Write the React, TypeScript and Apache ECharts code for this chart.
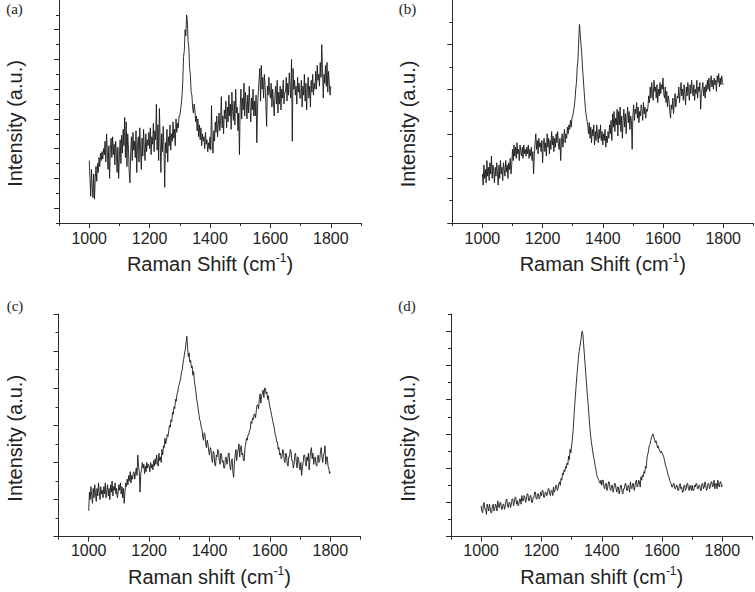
import React, { useEffect, useRef } from "react";
import * as echarts from "echarts";

// Raman shift sampling grid (cm^-1): one reading every 2.5 cm^-1 from 1000 to 1800
const shiftCm: number[] = Array.from({ length: 321 }, (_, i) => 1000 + i * 2.5);

// Intensities in arbitrary units, one row per 50 cm^-1
const spectrumA = [
  42, 30, 18, 36, 24, 17, 33, 16, 30, 38, 28, 40, 34, 44, 38, 47, 42, 48, 43, 50,
  46, 55, 41, 60, 48, 36, 52, 30, 50, 57, 44, 58, 46, 53, 39, 55, 47, 34, 51, 30,
  45, 56, 40, 59, 47, 63, 52, 71, 44, 68, 38, 60, 50, 34, 27, 48, 58, 42, 61, 49,
  55, 44, 62, 34, 52, 58, 41, 64, 49, 36, 57, 45, 63, 50, 42, 60, 48, 56, 52, 61,
  50, 64, 46, 58, 53, 67, 48, 62, 56, 80, 49, 66, 42, 77, 55, 34, 60, 48, 65, 52,
  24, 54, 47, 63, 41, 58, 52, 66, 49, 60, 55, 68, 57, 63, 52, 70, 61, 67, 64, 72,
  72, 76, 80, 86, 96, 112, 116, 130, 126, 140, 136, 122, 118, 104, 100, 88, 86, 78, 74, 80,
  76, 68, 72, 62, 70, 58, 66, 56, 64, 52, 60, 55, 58, 50, 61, 53, 56, 48, 54, 50,
  58, 49, 79, 54, 47, 62, 55, 68, 61, 72, 58, 66, 74, 62, 69, 85, 64, 72, 60, 76,
  70, 82, 64, 78, 68, 86, 72, 80, 63, 88, 75, 69, 82, 66, 90, 74, 78, 62, 74, 46,
  78, 90, 70, 84, 76, 94, 72, 88, 80, 70, 86, 74, 92, 78, 68, 84, 76, 90, 72, 82,
  72, 86, 54, 78, 88, 96, 104, 82, 106, 90, 98, 84, 100, 92, 80, 65, 92, 86, 98, 88,
  84, 94, 78, 90, 82, 72, 86, 92, 80, 96, 74, 88, 80, 92, 76, 90, 84, 96, 80, 88,
  88, 98, 82, 94, 86, 101, 92, 84, 110, 55, 104, 90, 96, 86, 92, 80, 98, 88, 94, 84,
  84, 96, 78, 92, 86, 100, 82, 94, 76, 90, 98, 84, 92, 78, 96, 88, 100, 86, 94, 90,
  102, 90, 106, 96, 100, 92, 108, 98, 120, 104, 84, 100, 94, 106, 92, 108, 88, 102, 94, 86,
  92,
];

const spectrumB = [
  22, 17, 26, 20, 24, 18, 28, 21, 25, 19, 27, 22, 30, 20, 26, 23, 18, 25, 21, 27,
  23, 17, 26, 20, 28, 22, 25, 19, 27, 24, 21, 28, 23, 26, 20, 27, 24, 29, 22, 26,
  33, 28, 35, 30, 34, 29, 36, 31, 33, 28, 35, 32, 30, 34, 29, 35, 31, 33, 30, 34,
  31, 35, 29, 33, 30, 34, 28, 32, 22, 30, 36, 40, 33, 37, 31, 38, 34, 36, 32, 37,
  27, 35, 38, 32, 36, 30, 40, 34, 38, 31, 37, 33, 41, 35, 39, 32, 38, 34, 40, 36,
  41, 35, 33, 38, 28, 36, 40, 34, 38, 42, 36, 40, 38, 43, 40, 44, 42, 46, 43, 47,
  48, 50, 52, 55, 60, 63, 70, 73, 82, 89, 85, 80, 76, 70, 65, 60, 55, 51, 48, 46,
  44, 40, 45, 38, 43, 36, 42, 39, 44, 35, 41, 37, 44, 39, 36, 42, 38, 44, 37, 41,
  35, 40, 37, 42, 34, 39, 36, 41, 38, 44, 40, 46, 37, 49, 43, 50, 41, 47, 44, 51,
  39, 50, 44, 52, 41, 48, 38, 46, 51, 43, 49, 40, 47, 52, 45, 50, 42, 48, 46, 33,
  48, 53, 46, 51, 49, 54, 47, 52, 45, 50, 48, 53, 51, 46, 54, 49, 52, 47, 51, 50,
  52, 57, 54, 61, 56, 63, 58, 55, 64, 59, 61, 56, 62, 54, 60, 57, 63, 58, 62, 60,
  65, 58, 56, 61, 54, 59, 52, 57, 55, 50, 47, 53, 51, 56, 49, 54, 58, 52, 55, 57,
  56, 61, 54, 59, 63, 57, 60, 55, 62, 58, 53, 61, 57, 63, 59, 55, 62, 58, 64, 60,
  57, 62, 55, 60, 58, 64, 56, 61, 59, 63, 51, 58, 60, 63, 57, 61, 56, 62, 59, 64,
  60, 65, 59, 63, 66, 61, 64, 60, 65, 62, 64, 59, 66, 63, 67, 61, 65, 62, 66, 63,
  62,
];

const spectrumC = [
  14, 24, 20, 27, 22, 18, 26, 21, 28, 23, 19, 26, 22, 29, 24, 20, 27, 23, 25, 21,
  27, 23, 29, 21, 25, 28, 22, 26, 20, 28, 24, 30, 22, 27, 25, 29, 23, 26, 21, 24,
  28, 25, 29, 23, 27, 21, 26, 18, 24, 29, 27, 31, 28, 33, 30, 35, 29, 33, 31, 34,
  35, 31, 34, 37, 33, 44, 38, 35, 24, 34, 36, 40, 37, 39, 34, 38, 35, 40, 37, 39,
  38, 35, 40, 37, 39, 36, 41, 38, 42, 39, 44, 40, 38, 45, 41, 43, 40, 47, 44, 49,
  48, 53, 50, 52, 55, 54, 57, 60, 59, 63, 62, 67, 66, 70, 69, 74, 73, 77, 78, 81,
  82, 84, 86, 89, 90, 94, 96, 99, 101, 105, 108, 102, 97, 99, 94, 95, 91, 92, 87, 89,
  84, 81, 78, 74, 72, 69, 66, 63, 62, 59, 58, 54, 52, 56, 55, 50, 48, 52, 50, 46,
  44, 48, 47, 42, 40, 46, 45, 39, 38, 44, 43, 47, 46, 41, 39, 45, 44, 40, 41, 37,
  37, 42, 43, 39, 40, 45, 45, 38, 36, 41, 42, 35, 32, 40, 44, 47, 41, 45, 47, 50,
  43, 48, 49, 44, 45, 41, 41, 48, 50, 53, 52, 55, 55, 57, 58, 62, 61, 64, 63, 66,
  66, 64, 68, 71, 71, 69, 74, 77, 72, 76, 77, 79, 75, 80, 80, 77, 78, 74, 76, 72,
  70, 68, 66, 64, 62, 60, 58, 55, 54, 51, 51, 47, 48, 44, 45, 42, 43, 47, 46, 41,
  40, 45, 44, 39, 38, 43, 43, 47, 46, 41, 41, 37, 39, 44, 45, 40, 37, 43, 42, 38,
  36, 40, 33, 37, 40, 44, 44, 40, 38, 43, 41, 45, 36, 42, 46, 48, 42, 45, 39, 42,
  43, 39, 38, 42, 44, 40, 41, 46, 48, 43, 40, 44, 45, 49, 39, 43, 43, 38, 37, 34,
  35,
];

const spectrumD = [
  18, 15, 14, 19, 20, 16, 16, 13, 19, 17, 15, 19, 17, 14, 14, 18, 19, 15, 16, 19,
  18, 15, 21, 18, 17, 20, 20, 16, 16, 19, 19, 16, 18, 21, 22, 18, 17, 20, 20, 17,
  19, 22, 22, 18, 20, 23, 23, 19, 21, 18, 19, 22, 22, 19, 24, 21, 21, 24, 23, 20,
  22, 25, 25, 21, 21, 24, 24, 20, 20, 23, 23, 26, 26, 22, 22, 25, 25, 22, 23, 26,
  24, 27, 27, 23, 23, 26, 26, 24, 25, 28, 28, 25, 24, 27, 27, 24, 29, 26, 27, 30,
  30, 27, 28, 31, 32, 30, 34, 33, 37, 36, 39, 38, 41, 40, 43, 42, 47, 45, 51, 49,
  53, 57, 62, 69, 76, 82, 88, 94, 99, 104, 108, 111, 114, 117, 120, 118, 112, 106, 100, 94,
  88, 82, 77, 71, 65, 60, 56, 53, 50, 47, 45, 42, 40, 37, 35, 34, 33, 32, 31, 33,
  30, 33, 33, 29, 28, 31, 31, 27, 29, 32, 32, 28, 27, 30, 30, 26, 28, 31, 31, 28,
  26, 29, 29, 25, 27, 30, 30, 26, 25, 28, 28, 31, 31, 27, 27, 30, 29, 26, 32, 29,
  28, 31, 31, 27, 29, 32, 33, 29, 30, 33, 32, 29, 35, 33, 36, 35, 38, 37, 41, 40,
  46, 48, 50, 53, 54, 56, 58, 59, 60, 58, 57, 55, 56, 54, 52, 53, 51, 50, 49, 50,
  49, 48, 47, 45, 43, 41, 40, 38, 36, 35, 33, 32, 31, 29, 29, 31, 31, 28, 28, 30,
  30, 27, 27, 30, 31, 28, 29, 26, 26, 30, 30, 27, 28, 31, 31, 28, 27, 30, 29, 27,
  30, 27, 27, 30, 29, 31, 31, 28, 28, 30, 30, 27, 27, 31, 31, 28, 29, 32, 30, 27,
  28, 31, 31, 28, 29, 32, 32, 29, 30, 33, 28, 31, 31, 28, 33, 30, 29, 32, 32, 29,
  30,
];

// Axis tick positions
const shiftLabelTicks = [1000, 1200, 1400, 1600, 1800];
const shiftMinorTicks = [900, 1100, 1300, 1500, 1700, 1900];
const intensityOddTicks = [10, 30, 50, 70, 90, 110, 130];
const intensityEvenTicks = [0, 20, 40, 60, 80, 100, 120];

const panelLetters = ["(a)", "(b)", "(c)", "(d)"];
const shiftWords = ["Shift", "Shift", "shift", "shift"];

const FONT = '"Liberation Sans", Arial, Helvetica, sans-serif';
const SERIF = '"Liberation Serif", "Times New Roman", serif';
const INK = "#222";
const AXIS = "#2a2a2a";

type Panel = {
  values: number[];
  yMax: number;
  yMajor: number[];
  yMinor: number[];
  left: number;
  top: number;
  width: number;
  height: number;
  labelMargin: number;
  nameGap: number;
  letterPos: [number, number];
  yTitlePos: [number, number];
};

const upto = (arr: number[], max: number) => arr.filter((v) => v <= max);

const panels: Panel[] = [
  {
    values: spectrumA,
    yMax: 150,
    yMajor: upto(intensityOddTicks, 140),
    yMinor: upto(intensityEvenTicks, 140).concat([140]),
    left: 59, top: 0, width: 302, height: 223,
    labelMargin: 7, nameGap: 29,
    letterPos: [14.5, 9], yTitlePos: [15, 123.5],
  },
  {
    values: spectrumB,
    yMax: 100,
    yMajor: upto(intensityEvenTicks, 90),
    yMinor: upto(intensityOddTicks, 90),
    left: 452.3, top: 0, width: 301, height: 223,
    labelMargin: 7, nameGap: 29,
    letterPos: [407.5, 9], yTitlePos: [408, 124],
  },
  {
    values: spectrumC,
    yMax: 120,
    yMajor: upto(intensityEvenTicks, 120),
    yMinor: upto(intensityOddTicks, 120),
    left: 58.5, top: 314, width: 302, height: 222.7,
    labelMargin: 6, nameGap: 28,
    letterPos: [15, 306], yTitlePos: [15, 438.3],
  },
  {
    values: spectrumD,
    yMax: 130,
    yMajor: upto(intensityEvenTicks, 130),
    yMinor: upto(intensityOddTicks, 130),
    left: 451, top: 314, width: 301.5, height: 222.7,
    labelMargin: 6, nameGap: 28,
    letterPos: [407, 305.7], yTitlePos: [408, 438.3],
  },
];

function buildOption() {
  const grid: any[] = [];
  const xAxis: any[] = [];
  const yAxis: any[] = [];
  const series: any[] = [];
  const graphic: any[] = [];

  panels.forEach((p, i) => {
    grid.push({
      left: p.left,
      top: p.top,
      width: p.width,
      height: p.height,
      containLabel: false,
      outerBoundsMode: "none",
    });

    // main shift axis: line, long ticks and labels
    xAxis.push({
      type: "value",
      gridIndex: i,
      position: "bottom",
      min: 900,
      max: 1900,
      axisLine: { show: true, onZero: false, lineStyle: { color: AXIS, width: 1 } },
      axisTick: { show: true, length: 5, customValues: shiftLabelTicks, lineStyle: { color: AXIS, width: 1 } },
      axisLabel: {
        show: true,
        customValues: shiftLabelTicks,
        formatter: (v: number) => String(v),
        fontSize: 16,
        fontFamily: FONT,
        color: INK,
        margin: p.labelMargin,
      },
      splitLine: { show: false },
      name: `{t|Raman ${shiftWords[i]} (cm}{s|-1}{t|)}`,
      nameLocation: "middle",
      nameGap: p.nameGap,
      nameTextStyle: {
        rich: {
          t: { fontSize: 20, fontFamily: FONT, color: INK },
          s: { fontSize: 12, fontFamily: FONT, color: INK, padding: [0, 0, 12, 0] },
        },
      },
    });
    // short ticks between the labelled ones
    xAxis.push({
      type: "value",
      gridIndex: i,
      position: "bottom",
      min: 900,
      max: 1900,
      axisLine: { show: false, onZero: false },
      axisTick: { show: true, length: 3, customValues: shiftMinorTicks, lineStyle: { color: AXIS, width: 1 } },
      axisLabel: { show: false },
      splitLine: { show: false },
    });

    yAxis.push({
      type: "value",
      gridIndex: i,
      position: "left",
      min: 0,
      max: p.yMax,
      axisLine: { show: true, onZero: false, lineStyle: { color: AXIS, width: 1 } },
      axisTick: { show: true, length: 5, customValues: p.yMajor, lineStyle: { color: AXIS, width: 1 } },
      axisLabel: { show: false },
      splitLine: { show: false },
    });
    yAxis.push({
      type: "value",
      gridIndex: i,
      position: "left",
      min: 0,
      max: p.yMax,
      axisLine: { show: false, onZero: false },
      axisTick: { show: true, length: 3, customValues: p.yMinor, lineStyle: { color: AXIS, width: 1 } },
      axisLabel: { show: false },
      splitLine: { show: false },
    });

    series.push({
      type: "line",
      xAxisIndex: i * 2,
      yAxisIndex: i * 2,
      data: shiftCm.map((x, k) => [x, p.values[k]]),
      symbol: "none",
      showSymbol: false,
      silent: true,
      lineStyle: { color: "#1a1a1a", width: 0.9 },
    });

    graphic.push({
      type: "text",
      x: p.letterPos[0],
      y: p.letterPos[1],
      style: {
        text: panelLetters[i],
        font: `15px ${SERIF}`,
        fill: INK,
        align: "center",
        verticalAlign: "middle",
      },
    });
    graphic.push({
      type: "text",
      x: p.yTitlePos[0],
      y: p.yTitlePos[1],
      rotation: Math.PI / 2,
      style: {
        text: "Intensity (a.u.)",
        font: `20px ${FONT}`,
        fill: INK,
        align: "center",
        verticalAlign: "middle",
      },
    });
  });

  return {
    animation: false,
    backgroundColor: "#ffffff",
    grid,
    xAxis,
    yAxis,
    series,
    graphic,
  };
}

export default function App() {
  const ref = useRef<HTMLDivElement>(null);

  useEffect(() => {
    if (!ref.current) return;
    const chart = echarts.init(ref.current, undefined, { renderer: "svg" });
    chart.setOption(buildOption() as any);
    return () => chart.dispose();
  }, []);

  return (
    <div
      ref={ref}
      style={{ position: "absolute", left: 0, top: 0, width: 755, height: 592, background: "#fff" }}
    />
  );
}
